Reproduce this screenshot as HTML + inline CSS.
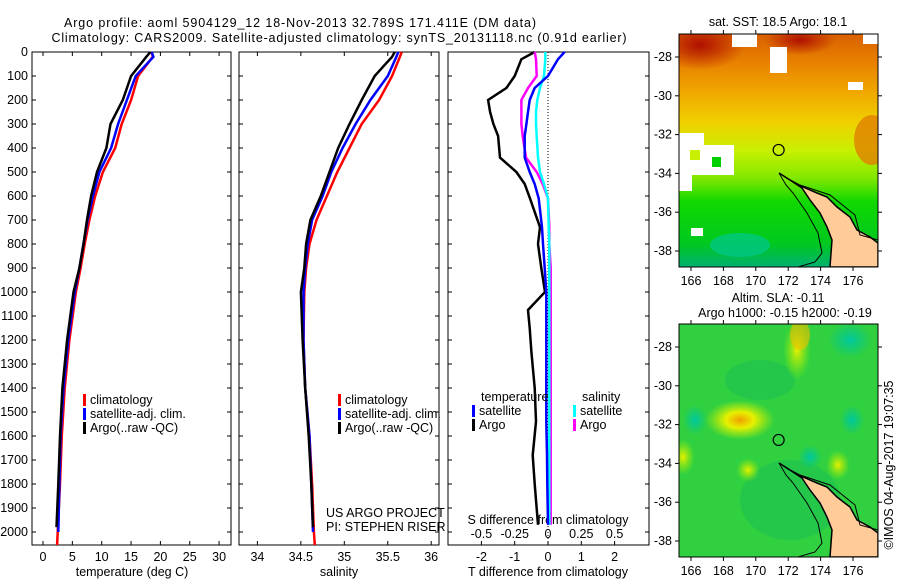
<!DOCTYPE html>
<html><head><meta charset="utf-8"><style>
body{margin:0;background:#fff}
svg text{font-family:"Liberation Sans",sans-serif;font-size:12.5px;fill:#000}
</style></head><body>
<svg id="c" width="900" height="580" viewBox="0 0 900 580" xmlns="http://www.w3.org/2000/svg">
<defs>
<linearGradient id="sstg" x1="0" y1="0" x2="0" y2="1">
<stop offset="0" stop-color="#d86000"/><stop offset="0.12" stop-color="#e88000"/>
<stop offset="0.25" stop-color="#f0a800"/><stop offset="0.38" stop-color="#f0d000"/>
<stop offset="0.5" stop-color="#c8f000"/><stop offset="0.62" stop-color="#80e800"/>
<stop offset="0.72" stop-color="#10d800"/><stop offset="0.9" stop-color="#00c820"/>
<stop offset="1" stop-color="#00b070"/></linearGradient>
<radialGradient id="rd"><stop offset="0" stop-color="#b01000"/><stop offset="1" stop-color="#b01000" stop-opacity="0"/></radialGradient>
<radialGradient id="yb"><stop offset="0" stop-color="#f0a000"/><stop offset="0.4" stop-color="#e8f000"/><stop offset="1" stop-color="#c0f000" stop-opacity="0"/></radialGradient>
<radialGradient id="yb2"><stop offset="0" stop-color="#e8f000"/><stop offset="1" stop-color="#a0f000" stop-opacity="0"/></radialGradient>
<radialGradient id="tb"><stop offset="0" stop-color="#00c8a0"/><stop offset="1" stop-color="#00c890" stop-opacity="0"/></radialGradient>
<clipPath id="clipTop"><rect x="679" y="34" width="199" height="233"/></clipPath>
<clipPath id="clipBot"><rect x="679" y="324" width="199" height="233"/></clipPath>
</defs>
<g id="g"></g>
</svg>
<script>
// ---- data ----
const depthRed=[0,20,100,200,300,400,500,600,700,800,900,1000,1200,1400,1600,1800,2000,2054];
const tempRed=[18.5,18.7,16.2,15.0,13.4,12.3,10.2,8.9,7.9,7.1,6.4,5.6,4.5,3.7,3.2,2.9,2.5,2.4];
const depthBlue=[0,20,100,200,300,400,500,600,700,800,900,1000,1200,1400,1600,1800,2000];
const tempBlue=[18.5,18.8,15.8,14.3,12.8,11.6,9.6,8.5,7.6,6.9,6.2,5.4,4.3,3.5,3.0,2.8,2.6];
const depthBlack=[0,20,100,200,300,400,500,600,700,800,900,1000,1200,1400,1600,1800,1980];
const tempBlack=[18.3,17.6,15.0,13.6,11.5,10.8,9.2,8.2,7.5,6.9,6.2,5.2,4.1,3.3,2.9,2.6,2.3];
const salRed=[35.66,35.64,35.55,35.4,35.2,35.06,34.92,34.8,34.68,34.6,34.56,34.54,34.53,34.55,34.6,34.63,34.65,34.66];
const salBlue=[35.62,35.6,35.5,35.3,35.13,34.98,34.85,34.75,34.63,34.58,34.55,34.53,34.53,34.55,34.6,34.62,34.64];
const salBlack=[35.58,35.55,35.35,35.2,35.06,34.93,34.83,34.73,34.61,34.56,34.54,34.5,34.52,34.55,34.59,34.62,34.64];
const diffDepth=[0,30,100,150,200,250,300,350,440,500,550,610,730,800,900,1000,1075,1150,1250,1400,1540,1680,1800,1970];
const tDiffArgo=[-0.4,-0.8,-1.0,-1.25,-1.8,-1.74,-1.64,-1.5,-1.44,-0.95,-0.7,-0.54,-0.24,-0.3,-0.2,-0.09,-0.6,-0.55,-0.5,-0.4,-0.36,-0.46,-0.4,-0.3];
const tDiffSat=[0.5,0.3,0.0,-0.4,-0.55,-0.6,-0.65,-0.7,-0.7,-0.55,-0.4,-0.28,-0.18,-0.15,-0.1,-0.05,-0.05,-0.05,-0.05,-0.05,-0.05,-0.03,-0.02,0.0];
const sDiffArgo=[-0.1,-0.09,-0.085,-0.15,-0.2,-0.2,-0.2,-0.19,-0.165,-0.085,-0.04,0.0,0.01,0.01,0.02,0.02,0.02,0.02,0.02,0.02,0.02,0.02,0.02,0.02];
const sDiffSat=[-0.02,-0.02,-0.03,-0.06,-0.08,-0.09,-0.09,-0.085,-0.075,-0.06,-0.03,0.0,0.005,0.01,0.01,0.01,0.01,0.01,0.01,0.01,0.01,0.01,0.01,0.01];
const depthTicks=[0,100,200,300,400,500,600,700,800,900,1000,1100,1200,1300,1400,1500,1600,1700,1800,1900,2000];
const tempTicks=[0,5,10,15,20,25,30];
const salTicks=[34,34.5,35,35.5,36];
const tdTicks=[-2,-1,0,1,2];
const sdTicks=[-0.5,-0.25,0,0.25,0.5];
const sdLabels=["-0.5","-0.25","0","0.25","0.5"];
const lonTicks=[166,168,170,172,174,176];
const latTicks=[-28,-30,-32,-34,-36,-38];

// ---- axes ----
const NS="http://www.w3.org/2000/svg";
const G=document.getElementById('g');
const TOP=52, BOT=545;
const yD=d=>TOP+d*0.24;
const xT=t=>43+t*5.87;
const xS=s=>344.3+(s-35)*86.9;
const xTD=v=>548+v*33.3;
const xSD=v=>548+v*133.2;
const xLon=l=>691+(l-166)*16.2;
const yLat=(l,o)=>o+23+(-28-l)*19.4;
let P=G;
function el(tag,attrs,txt){const e=document.createElementNS(NS,tag);for(const k in attrs)e.setAttribute(k,attrs[k]);if(txt!==undefined)e.textContent=txt;P.appendChild(e);return e;}
function line(xs,ys,color,name,w){const p=xs.map((x,i)=>x.toFixed(1)+','+ys[i].toFixed(1)).join(' ');const e=el('polyline',{points:p,fill:'none',stroke:color,'stroke-width':w||2.5});

return e;}
function txt(x,y,s,anchor,name,extra){const e=el('text',Object.assign({x:x,y:y,'text-anchor':anchor||'start'},extra||{}),s);

return e;}

// titles
txt(300,27,"Argo profile: aoml 5904129_12 18-Nov-2013 32.789S 171.411E (DM data)","middle","title-line-1",{textLength:472});
txt(339,42,"Climatology: CARS2009. Satellite-adjusted climatology: synTS_20131118.nc (0.91d earlier)","middle","title-line-2",{textLength:575});

function frame(x0,x1,name){const r=el('rect',{x:x0,y:TOP,width:x1-x0,height:BOT-TOP,fill:'none',stroke:'#000','stroke-width':1});


depthTicks.forEach(d=>{el('line',{x1:x0,x2:x0+4,y1:yD(d),y2:yD(d),stroke:'#000'});el('line',{x1:x1,x2:x1-4,y1:yD(d),y2:yD(d),stroke:'#000'});});}
frame(32,231,'temperature-panel-frame');
frame(239,439,'salinity-panel-frame');
frame(448,649,'difference-panel-frame');
depthTicks.forEach(d=>txt(28,yD(d)+4,String(d),'end','depth-tick-label'));
tempTicks.forEach(t=>{el('line',{x1:xT(t),x2:xT(t),y1:TOP,y2:TOP+4,stroke:'#000'});el('line',{x1:xT(t),x2:xT(t),y1:BOT,y2:BOT-4,stroke:'#000'});txt(xT(t),561,String(t),'middle','temp-tick-label');});
salTicks.forEach(t=>{el('line',{x1:xS(t),x2:xS(t),y1:TOP,y2:TOP+4,stroke:'#000'});el('line',{x1:xS(t),x2:xS(t),y1:BOT,y2:BOT-4,stroke:'#000'});txt(xS(t),561,String(t),'middle','salinity-tick-label');});
tdTicks.forEach(t=>{el('line',{x1:xTD(t),x2:xTD(t),y1:BOT,y2:BOT-4,stroke:'#000'});txt(xTD(t),561,String(t),'middle','tdiff-tick-label');});
sdTicks.forEach((t,i)=>txt(xSD(t),538,sdLabels[i],'middle','sdiff-tick-label'));
txt(132,576,"temperature (deg C)","middle","x-axis-title-temperature");
txt(339,576,"salinity","middle","x-axis-title-salinity");
txt(548,576,"T difference from climatology","middle","x-axis-title-tdiff");
txt(548,524,"S difference from climatology","middle","x-axis-title-sdiff");
el('line',{x1:548,x2:548,y1:TOP,y2:BOT,stroke:'#000','stroke-dasharray':'1,2','stroke-width':1});

// series
line(depthRed.map((d,i)=>xT(tempRed[i])),depthRed.map(yD),'#ff0000','temp-climatology-line');
line(depthBlue.map((d,i)=>xT(tempBlue[i])),depthBlue.map(yD),'#0000ff','temp-satellite-line');
line(depthBlack.map((d,i)=>xT(tempBlack[i])),depthBlack.map(yD),'#000000','temp-argo-line');
line(depthRed.map((d,i)=>xS(salRed[i])),depthRed.map(yD),'#ff0000','sal-climatology-line');
line(depthBlue.map((d,i)=>xS(salBlue[i])),depthBlue.map(yD),'#0000ff','sal-satellite-line');
line(depthBlack.map((d,i)=>xS(salBlack[i])),depthBlack.map(yD),'#000000','sal-argo-line');
line(diffDepth.map((d,i)=>xTD(tDiffArgo[i])),diffDepth.map(yD),'#000000','tdiff-argo-line');
line(diffDepth.map((d,i)=>xSD(sDiffArgo[i])),diffDepth.map(yD),'#ff00ff','sdiff-argo-line');
line(diffDepth.map((d,i)=>xSD(sDiffSat[i])),diffDepth.map(yD),'#00ffff','sdiff-satellite-line');
line(diffDepth.map((d,i)=>xTD(tDiffSat[i])),diffDepth.map(yD),'#0000ff','tdiff-satellite-line');

// legends
function leg(x,y,c,s,name){el('rect',{x:x,y:y-10,width:3,height:12,fill:c});txt(x+7,y,s,'start',name);}
leg(83,404,'#ff0000','climatology','legend-climatology');
leg(83,418,'#0000ff','satellite-adj. clim.','legend-satellite-adj');
leg(83,432,'#000000','Argo(..raw -QC)','legend-argo');
leg(338,404,'#ff0000','climatology','legend-sal-climatology');
leg(338,418,'#0000ff','satellite-adj. clim.','legend-sal-satellite-adj');
leg(338,432,'#000000','Argo(..raw -QC)','legend-sal-argo');
txt(481,401,'temperature','start','legend-temperature-heading');
leg(472,415,'#0000ff','satellite','legend-tdiff-satellite');
leg(472,429,'#000000','Argo','legend-tdiff-argo');
txt(582,401,'salinity','start','legend-salinity-heading');
leg(573,415,'#00ffff','satellite','legend-sdiff-satellite');
leg(573,429,'#ff00ff','Argo','legend-sdiff-argo');
txt(326,517,'US ARGO PROJECT','start','project-label');
txt(326,531,'PI: STEPHEN RISER','start','pi-label');

// maps
function land(o){const pts=[[779,173],[790,180],[803,187],[817,193],[827,197],[837,207],[850,217],[857,230],[870,237],[878,243],[878,267],[830,267],[832,240],[827,227],[820,213],[810,200],[802,188],[793,182]];
el('polygon',{points:pts.map(p=>p[0]+','+(p[1]-34+o)).join(' '),fill:'#ffcc99',stroke:'#000','stroke-width':1.5});
const c=[[779,173],[786,185],[793,193],[807,213],[818,233],[822,253],[815,262],[798,267]];
el('polyline',{points:c.map(p=>p[0]+','+(p[1]-34+o)).join(' '),fill:'none',stroke:'#000','stroke-width':1});
const c2=[[800,185],[830,195],[855,215],[860,235],[878,240]];
el('polyline',{points:c2.map(p=>p[0]+','+(p[1]-34+o)).join(' '),fill:'none',stroke:'#000','stroke-width':1});}
function mapAxes(o,name){const r=el('rect',{x:679,y:o,width:199,height:233,fill:'none',stroke:'#000'});


lonTicks.forEach(l=>{el('line',{x1:xLon(l),x2:xLon(l),y1:o,y2:o-4,stroke:'#000'});el('line',{x1:xLon(l),x2:xLon(l),y1:o+233,y2:o+237,stroke:'#000'});txt(xLon(l),o+251,String(l),'middle','lon-tick-label');});
latTicks.forEach(l=>{el('line',{x1:679,x2:675,y1:yLat(l,o),y2:yLat(l,o),stroke:'#000'});el('line',{x1:878,x2:882,y1:yLat(l,o),y2:yLat(l,o),stroke:'#000'});txt(672,yLat(l,o)+4,String(l),'end','lat-tick-label');});
el('circle',{cx:xLon(171.41),cy:yLat(-32.79,o),r:5.5,fill:'none',stroke:'#000','stroke-width':1.2});}
// top SST map
const gTop=el('g',{'clip-path':'url(#clipTop)'});
P=gTop;
el('rect',{x:679,y:34,width:199,height:233,fill:'url(#sstg)'});
el('ellipse',{cx:700,cy:45,rx:45,ry:25,fill:'url(#rd)'});
el('ellipse',{cx:800,cy:40,rx:35,ry:15,fill:'url(#rd)'});
el('ellipse',{cx:872,cy:140,rx:18,ry:25,fill:'#e08000',opacity:0.8});
el('ellipse',{cx:740,cy:245,rx:30,ry:12,fill:'#00c890',opacity:0.7});
[[732,34,25,13],[770,47,17,26],[848,82,15,8],[863,34,15,10],[679,133,25,12],[679,145,55,30],[679,175,13,16],[781,61,6,5],[691,228,12,8]].forEach(b=>el('rect',{x:b[0],y:b[1],width:b[2],height:b[3],fill:'#fff'}));
el('rect',{x:690,y:150,width:10,height:10,fill:'#c8f000'});
el('rect',{x:712,y:157,width:9,height:10,fill:'#00d000'});
land(34);
P=G;
mapAxes(34,'sst-map');
txt(778,26,'sat. SST: 18.5 Argo: 18.1','middle','sst-map-title');
// bottom SLA map
const O=324;
const gBot=el('g',{'clip-path':'url(#clipBot)'});
P=gBot;
el('rect',{x:679,y:O,width:199,height:233,fill:'#30d040'});
el('ellipse',{cx:760,cy:380,rx:35,ry:20,fill:'#10b860',opacity:0.35});
el('ellipse',{cx:790,cy:500,rx:50,ry:40,fill:'#10b860',opacity:0.35});
el('ellipse',{cx:797,cy:350,rx:14,ry:30,fill:'url(#yb2)'});
el('ellipse',{cx:800,cy:335,rx:10,ry:15,fill:'#f0c000',opacity:0.6});
el('ellipse',{cx:740,cy:420,rx:35,ry:20,fill:'url(#yb)'});
el('ellipse',{cx:683,cy:457,rx:12,ry:18,fill:'url(#yb2)'});
el('ellipse',{cx:748,cy:470,rx:12,ry:12,fill:'url(#yb2)'});
el('ellipse',{cx:838,cy:465,rx:12,ry:15,fill:'url(#yb2)'});
el('ellipse',{cx:850,cy:340,rx:22,ry:18,fill:'url(#tb)'});
el('ellipse',{cx:852,cy:420,rx:12,ry:15,fill:'url(#tb)'});
el('ellipse',{cx:695,cy:420,rx:12,ry:15,fill:'url(#tb)'});
el('ellipse',{cx:810,cy:457,rx:12,ry:12,fill:'url(#tb)'});
land(O);
P=G;
mapAxes(O,'sla-map');
txt(778,302,'Altim. SLA: -0.11','middle','sla-map-title-1');
txt(785,317,'Argo h1000: -0.15 h2000: -0.19','middle','sla-map-title-2');
txt(893,465,'©IMOS 04-Aug-2017 19:07:35','middle','imos-timestamp',{transform:'rotate(-90 893 465)'});
</script>
</body></html>
